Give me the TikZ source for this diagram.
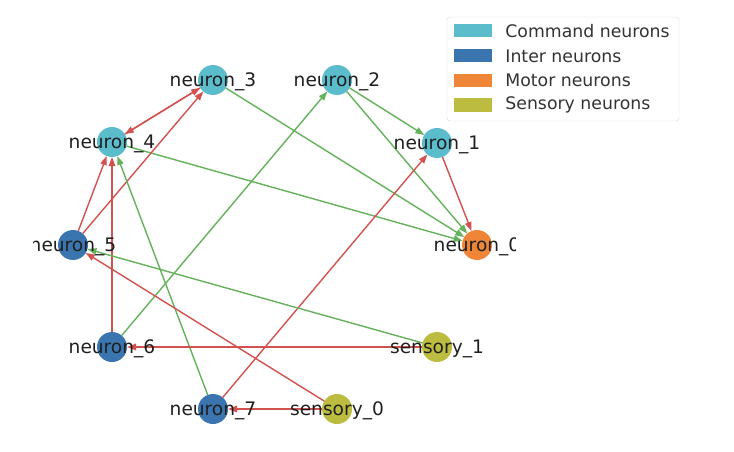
\documentclass[tikz,border=0pt]{standalone}
\usepackage{fontspec}
\setmainfont{DejaVu Sans}
\usetikzlibrary{arrows.meta}
\definecolor{cmdcol}{RGB}{91,188,204}
\definecolor{intcol}{RGB}{58,117,175}
\definecolor{motcol}{RGB}{239,133,54}
\definecolor{sencol}{RGB}{188,188,64}
\definecolor{exccol}{RGB}{100,178,90}
\definecolor{inhcol}{RGB}{210,82,80}
\tikzset{
  neuron/.style   = {circle, minimum size=30pt, inner sep=0pt, outer sep=0pt},
  command/.style  = {neuron, fill=cmdcol},
  inter/.style    = {neuron, fill=intcol},
  motor/.style    = {neuron, fill=motcol},
  sensory/.style  = {neuron, fill=sencol},
  syn/.style      = {line width=1.4pt, -{Triangle[length=9pt,width=6.5pt]}},
  excite/.style   = {syn, draw=exccol},
  inhibit/.style  = {syn, draw=inhcol},
  lbl/.style      = {font=\fontsize{18.6}{21}\selectfont, text=black!88, inner sep=0pt, yshift=-1.5pt},
  patch/.style    = {rectangle, minimum width=38pt, minimum height=13pt, inner sep=0pt},
  legtext/.style  = {font=\fontsize{17.3}{20}\selectfont, text=black!80, anchor=west, inner sep=0pt}
}

\begin{document}
\begin{tikzpicture}[x=1pt, y=-1pt]
  \useasboundingbox (0,0) rectangle (734,452);

  \node [motor]   (n0) at (477,245) {};
  \node [command] (n1) at (437,143) {};
  \node [command] (n2) at (337,80) {};
  \node [command] (n3) at (213,80) {};
  \node [command] (n4) at (112,142) {};
  \node [inter]   (n5) at (73,245) {};
  \node [inter]   (n6) at (112,347) {};
  \node [inter]   (n7) at (213,409) {};
  \node [sensory] (s0) at (337,409) {};
  \node [sensory] (s1) at (437,347) {};

  \draw [excite]  (n2) -- (n1);
  \draw [excite]  (n2) -- (n0);
  \draw [excite]  (n3) -- (n0);
  \draw [excite]  (n4) -- (n0);
  \draw [inhibit] (n1) -- (n0);
  \draw [inhibit] (n3) -- (n4);
  \draw [inhibit] (n4) -- (n3);
  \draw [inhibit] (n5) -- (n3);
  \draw [inhibit] (n5) -- (n4);
  \draw [inhibit] (n6) -- (n4);
  \draw [excite]  (n7) -- (n4);
  \draw [excite]  (n6) -- (n2);
  \draw [inhibit] (n7) -- (n1);
  \draw [excite]  (s1) -- (n5);
  \draw [inhibit] (s0) -- (n5);
  \draw [inhibit] (s1) -- (n6);
  \draw [inhibit] (s0) -- (n7);

  \begin{scope}
    \clip (33,0) rectangle (515,452);
    \foreach \n/\t in {n0/neuron\_0, n1/neuron\_1, n2/neuron\_2, n3/neuron\_3,
                       n4/neuron\_4, n5/neuron\_5, n6/neuron\_6, n7/neuron\_7,
                       s0/sensory\_0, s1/sensory\_1}
      \node [lbl] at (\n) {\t};
  \end{scope}

  \node [draw=black!15, fill=white, rounded corners=3pt, minimum width=232pt,
         minimum height=104pt, inner sep=0pt] (legend) at (563,69) {};
  \node [patch, fill=cmdcol] (lcmd) at (473,31) {};
  \node [patch, fill=intcol] (lint) at (473,56) {};
  \node [patch, fill=motcol] (lmot) at (473,80.5) {};
  \node [patch, fill=sencol] (lsen) at (473,105) {};
  \node [legtext] at ([xshift=13pt]lcmd.east) {Command neurons};
  \node [legtext] at ([xshift=13pt]lint.east) {Inter neurons};
  \node [legtext] at ([xshift=13pt]lmot.east) {Motor neurons};
  \node [legtext] at ([xshift=13pt]lsen.east) {Sensory neurons};
\end{tikzpicture}
\end{document}
